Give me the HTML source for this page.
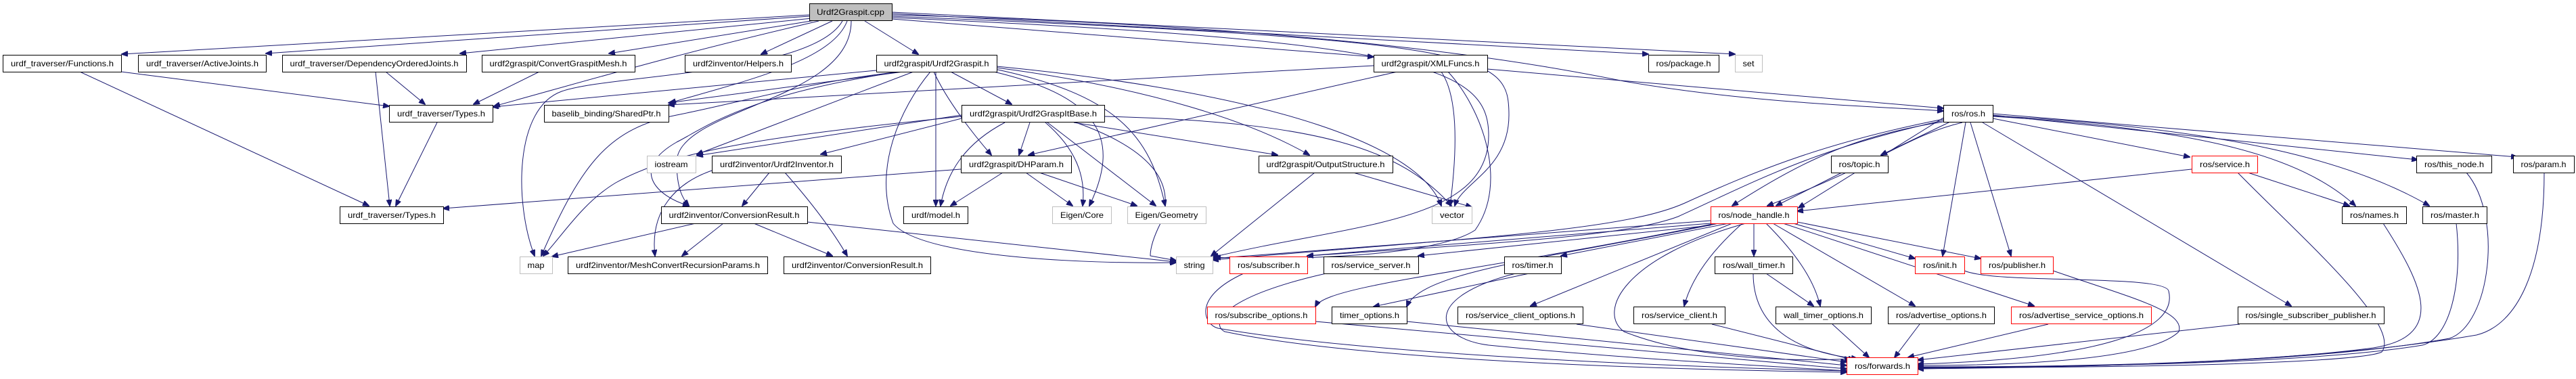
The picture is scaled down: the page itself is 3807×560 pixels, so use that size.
<!DOCTYPE html>
<html><head><meta charset="utf-8"><style>
html,body{margin:0;padding:0;background:#fff;}
svg{display:block;}
text{font-family:"Liberation Sans",sans-serif;font-size:12px;fill:#000;}
.e{fill:none;stroke:#191970;stroke-width:1;marker-end:url(#a);}
.n{fill:#fff;stroke:#000;stroke-width:1;}
.g{fill:#fff;stroke:#bfbfbf;stroke-width:1;}
.r{fill:#fff;stroke:#ff0000;stroke-width:1;}
.root{fill:#bfbfbf;stroke:#000;stroke-width:1;}
</style></head><body>
<svg width="3807" height="560" viewBox="0 0 3807 560" xmlns="http://www.w3.org/2000/svg">
<defs><marker id="a" markerWidth="10" markerHeight="8" refX="9" refY="4" orient="auto" markerUnits="userSpaceOnUse"><path d="M0,0 L10,4 L0,8 z" fill="#191970" stroke="#191970"/></marker></defs>
<g>
<path class="e" d="M1196,22 L180,80"/>
<path class="e" d="M1196,24 L393,79"/>
<path class="e" d="M1200,27 L680,79"/>
<path class="e" d="M1205,30 L900,79"/>
<path class="e" d="M1230,31 L1125,80"/>
<path class="e" d="M1278,31 L1357,80"/>
<path class="e" d="M1210,31 C1000,80 900,110 730,157"/>
<path class="e" d="M1252,31 C1230,90 1100,120 990,152"/>
<path class="e" d="M1245,31 C1200,110 900,110 830,135 C760,160 760,300 790,378"/>
<path class="e" d="M1258,31 C1258,150 1000,160 1000,240 C1000,280 1010,295 1018,304"/>
<path class="e" d="M1318,28 L2030,84"/>
<path class="e" d="M1318,20 L2436,80"/>
<path class="e" d="M1318,18 L2564,80"/>
<path class="e" d="M1318,22 C2000,40 2300,100 2400,120 C2600,155 2800,158 2872,164"/>
<path class="e" d="M1318,24 C2200,60 2230,80 2230,170 C2230,250 2160,270 2150,304"/>
<path class="e" d="M1318,26 C2100,60 2200,100 2200,200 C2200,330 2000,330 1792,380"/>
<path class="e" d="M179,106 L575,157"/>
<path class="e" d="M118,106 L545,304"/>
<path class="e" d="M570,106 L628,154"/>
<path class="e" d="M555,106 L576,304"/>
<path class="e" d="M797,106 L700,154"/>
<path class="e" d="M646,181 L585,304"/>
<path class="e" d="M1295,104 L728,158"/>
<path class="e" d="M1335,106 L988,152"/>
<path class="e" d="M1350,106 L1030,228"/>
<path class="e" d="M1405,106 L1495,154"/>
<path class="e" d="M1380,106 C1400,150 1440,200 1465,229"/>
<path class="e" d="M1383,106 L1383,304"/>
<path class="e" d="M1460,104 C1620,140 1660,200 1610,304"/>
<path class="e" d="M1470,102 C1650,140 1700,200 1722,304"/>
<path class="e" d="M1473,100 C1700,130 1850,180 1935,229"/>
<path class="e" d="M1473,98 C1900,140 2100,220 2130,304"/>
<path class="e" d="M1375,106 C1330,160 1290,250 1320,330 C1360,380 1600,390 1738,388"/>
<path class="e" d="M1330,106 C1200,120 1100,150 1000,170 C900,190 860,240 800,378"/>
<path class="e" d="M1330,106 C1100,140 1040,190 1000,210 C930,250 970,290 1018,304"/>
<path class="e" d="M1421,175 L1213,228"/>
<path class="e" d="M1421,170 L1030,230"/>
<path class="e" d="M1522,181 L1506,229"/>
<path class="e" d="M1545,181 C1590,220 1605,260 1600,304"/>
<path class="e" d="M1548,181 L1708,304"/>
<path class="e" d="M1587,181 L1888,229"/>
<path class="e" d="M1590,181 C1700,220 1740,270 1715,330 C1705,350 1700,365 1700,378 L1738,385"/>
<path class="e" d="M1632,172 C1950,180 2070,220 2145,304"/>
<path class="e" d="M1421,172 C1150,200 1000,220 910,270 C860,300 830,350 803,378"/>
<path class="e" d="M1485,181 C1430,210 1400,250 1390,304"/>
<path class="e" d="M1482,255 L1405,304"/>
<path class="e" d="M1516,255 L1585,304"/>
<path class="e" d="M1536,255 L1680,304"/>
<path class="e" d="M1420,250 L655,308"/>
<path class="e" d="M2065,106 L1520,229"/>
<path class="e" d="M2198,102 L2872,160"/>
<path class="e" d="M2130,106 C2160,150 2150,250 2143,304"/>
<path class="e" d="M2140,106 C2190,160 2230,270 2180,340 C2120,380 1900,385 1795,380"/>
<path class="e" d="M2030,97 L988,155"/>
<path class="e" d="M1137,255 L1097,304"/>
<path class="e" d="M1160,255 C1200,300 1230,340 1252,378"/>
<path class="e" d="M1052,252 C1000,270 960,310 968,378"/>
<path class="e" d="M1028,330 L816,379"/>
<path class="e" d="M1069,330 L1008,378"/>
<path class="e" d="M1114,330 L1230,378"/>
<path class="e" d="M1193,328 L1738,387"/>
<path class="e" d="M1943,255 L1790,378"/>
<path class="e" d="M2000,255 L2175,306"/>
<path class="e" d="M2900,181 C2820,200 2780,240 2612,304"/>
<path class="e" d="M2880,181 L2780,229"/>
<path class="e" d="M2945,175 L3236,232"/>
<path class="e" d="M2945,170 L3573,236"/>
<path class="e" d="M2945,168 L3720,232"/>
<path class="e" d="M2945,172 C3250,190 3400,230 3481,304"/>
<path class="e" d="M2945,171 C3300,190 3480,240 3590,304"/>
<path class="e" d="M2905,181 L2871,378"/>
<path class="e" d="M2912,181 L2972,378"/>
<path class="e" d="M2930,181 L3386,452"/>
<path class="e" d="M2872,176 C2700,210 2600,250 2490,300 C2400,340 2200,350 1792,384"/>
<path class="e" d="M2872,178 C2680,220 2590,270 2480,320 C2400,350 2200,360 1932,378"/>
<path class="e" d="M2872,180 C2740,200 2660,240 2560,304"/>
<path class="e" d="M2872,174 L2658,307"/>
<path class="e" d="M2722,255 L2625,304"/>
<path class="e" d="M3239,250 L2656,312"/>
<path class="e" d="M3322,255 L3472,304"/>
<path class="e" d="M3307,255 C3400,350 3550,480 3520,520 C3480,540 3000,545 2834,542"/>
<path class="e" d="M2528,326 L1792,382"/>
<path class="e" d="M2528,330 L1932,378"/>
<path class="e" d="M2528,333 L2096,378"/>
<path class="e" d="M2555,330 L2307,378"/>
<path class="e" d="M2540,330 C2300,380 2100,400 2079,453"/>
<path class="e" d="M2535,330 C2200,400 1960,420 1944,453"/>
<path class="e" d="M2560,330 L2262,452"/>
<path class="e" d="M2575,330 C2530,370 2500,410 2489,452"/>
<path class="e" d="M2592,330 L2592,378"/>
<path class="e" d="M2610,330 C2650,370 2680,410 2690,452"/>
<path class="e" d="M2620,330 L2830,452"/>
<path class="e" d="M2635,330 L3006,452"/>
<path class="e" d="M2650,330 L2830,382"/>
<path class="e" d="M2656,328 L2927,382"/>
<path class="e" d="M2580,330 C2400,380 2360,460 2400,490 C2500,530 2650,535 2735,530"/>
<path class="e" d="M2260,404 L2030,453"/>
<path class="e" d="M2240,404 C2100,440 2120,500 2200,510 C2400,530 2600,540 2729,548"/>
<path class="e" d="M2610,404 L2680,452"/>
<path class="e" d="M2591,404 C2591,480 2650,520 2745,530"/>
<path class="e" d="M2708,479 L2762,528"/>
<path class="e" d="M2530,479 L2740,532"/>
<path class="e" d="M2330,479 L2729,535"/>
<path class="e" d="M2079,475 L2729,540"/>
<path class="e" d="M1944,475 L2729,545"/>
<path class="e" d="M1838,404 C1760,440 1780,480 1800,485 C2000,520 2400,540 2729,548"/>
<path class="e" d="M1960,404 C1800,440 1790,480 1810,490 C2000,530 2400,545 2729,550"/>
<path class="e" d="M2837,479 L2800,528"/>
<path class="e" d="M3027,479 L2820,528"/>
<path class="e" d="M3310,479 L2834,532"/>
<path class="e" d="M2903,400 C2950,420 3200,405 3205,430 C3220,490 3100,530 2834,538"/>
<path class="e" d="M3034,400 C3150,440 3230,460 3220,490 C3180,530 3000,540 2834,540"/>
<path class="e" d="M3522,330 C3580,420 3620,500 3500,515 C3300,540 3000,542 2834,542"/>
<path class="e" d="M3630,330 C3640,420 3620,500 3580,510 C3400,540 3000,542 2834,543"/>
<path class="e" d="M3645,255 C3700,320 3680,480 3620,500 C3400,540 3000,543 2834,544"/>
<path class="e" d="M3760,255 C3760,400 3720,480 3660,495 C3400,540 3000,543 2834,545"/>
</g>
<g>
<rect class="root" x="1196.5" y="5.5" width="122" height="25"/><text x="1257" y="22" text-anchor="middle" textLength="100" lengthAdjust="spacingAndGlyphs">Urdf2Graspit.cpp</text>
<rect class="n" x="4.5" y="81.5" width="175" height="25"/><text x="92" y="98" text-anchor="middle" textLength="152" lengthAdjust="spacingAndGlyphs">urdf_traverser/Functions.h</text>
<rect class="n" x="204.5" y="81.5" width="189" height="25"/><text x="299" y="98" text-anchor="middle" textLength="166" lengthAdjust="spacingAndGlyphs">urdf_traverser/ActiveJoints.h</text>
<rect class="n" x="417.5" y="81.5" width="272" height="25"/><text x="553" y="98" text-anchor="middle" textLength="249" lengthAdjust="spacingAndGlyphs">urdf_traverser/DependencyOrderedJoints.h</text>
<rect class="n" x="712.5" y="81.5" width="226" height="25"/><text x="825" y="98" text-anchor="middle" textLength="203" lengthAdjust="spacingAndGlyphs">urdf2graspit/ConvertGraspitMesh.h</text>
<rect class="n" x="1012.5" y="81.5" width="157" height="25"/><text x="1091" y="98" text-anchor="middle" textLength="134" lengthAdjust="spacingAndGlyphs">urdf2inventor/Helpers.h</text>
<rect class="n" x="1295.5" y="81.5" width="178" height="25"/><text x="1384" y="98" text-anchor="middle" textLength="155" lengthAdjust="spacingAndGlyphs">urdf2graspit/Urdf2Graspit.h</text>
<rect class="n" x="2030.5" y="81.5" width="168" height="25"/><text x="2114" y="98" text-anchor="middle" textLength="145" lengthAdjust="spacingAndGlyphs">urdf2graspit/XMLFuncs.h</text>
<rect class="n" x="2436.5" y="81.5" width="104" height="25"/><text x="2488" y="98" text-anchor="middle" textLength="81" lengthAdjust="spacingAndGlyphs">ros/package.h</text>
<rect class="g" x="2564.5" y="81.5" width="40" height="25"/><text x="2584" y="98" text-anchor="middle" textLength="17" lengthAdjust="spacingAndGlyphs">set</text>
<rect class="n" x="575.5" y="155.5" width="153" height="25"/><text x="652" y="172" text-anchor="middle" textLength="130" lengthAdjust="spacingAndGlyphs">urdf_traverser/Types.h</text>
<rect class="n" x="804.5" y="155.5" width="184" height="25"/><text x="896" y="172" text-anchor="middle" textLength="161" lengthAdjust="spacingAndGlyphs">baselib_binding/SharedPtr.h</text>
<rect class="n" x="1421.5" y="155.5" width="211" height="25"/><text x="1527" y="172" text-anchor="middle" textLength="188" lengthAdjust="spacingAndGlyphs">urdf2graspit/Urdf2GraspItBase.h</text>
<rect class="n" x="2872.5" y="155.5" width="73" height="25"/><text x="2909" y="172" text-anchor="middle" textLength="50" lengthAdjust="spacingAndGlyphs">ros/ros.h</text>
<rect class="g" x="956.5" y="230.5" width="72" height="25"/><text x="992" y="247" text-anchor="middle" textLength="49" lengthAdjust="spacingAndGlyphs">iostream</text>
<rect class="n" x="1052.5" y="230.5" width="191" height="25"/><text x="1148" y="247" text-anchor="middle" textLength="168" lengthAdjust="spacingAndGlyphs">urdf2inventor/Urdf2Inventor.h</text>
<rect class="n" x="1420.5" y="230.5" width="163" height="25"/><text x="1502" y="247" text-anchor="middle" textLength="140" lengthAdjust="spacingAndGlyphs">urdf2graspit/DHParam.h</text>
<rect class="n" x="1860.5" y="230.5" width="198" height="25"/><text x="1959" y="247" text-anchor="middle" textLength="175" lengthAdjust="spacingAndGlyphs">urdf2graspit/OutputStructure.h</text>
<rect class="n" x="2706.5" y="230.5" width="84" height="25"/><text x="2748" y="247" text-anchor="middle" textLength="61" lengthAdjust="spacingAndGlyphs">ros/topic.h</text>
<rect class="r" x="3239.5" y="230.5" width="97" height="25"/><text x="3288" y="247" text-anchor="middle" textLength="74" lengthAdjust="spacingAndGlyphs">ros/service.h</text>
<rect class="n" x="3571.5" y="230.5" width="111" height="25"/><text x="3627" y="247" text-anchor="middle" textLength="88" lengthAdjust="spacingAndGlyphs">ros/this_node.h</text>
<rect class="n" x="3714.5" y="230.5" width="90" height="25"/><text x="3759" y="247" text-anchor="middle" textLength="67" lengthAdjust="spacingAndGlyphs">ros/param.h</text>
<rect class="n" x="502.5" y="305.5" width="153" height="25"/><text x="579" y="322" text-anchor="middle" textLength="130" lengthAdjust="spacingAndGlyphs">urdf_traverser/Types.h</text>
<rect class="n" x="977.5" y="305.5" width="216" height="25"/><text x="1085" y="322" text-anchor="middle" textLength="193" lengthAdjust="spacingAndGlyphs">urdf2inventor/ConversionResult.h</text>
<rect class="n" x="1335.5" y="305.5" width="95" height="25"/><text x="1383" y="322" text-anchor="middle" textLength="72" lengthAdjust="spacingAndGlyphs">urdf/model.h</text>
<rect class="g" x="1555.5" y="305.5" width="87" height="25"/><text x="1599" y="322" text-anchor="middle" textLength="64" lengthAdjust="spacingAndGlyphs">Eigen/Core</text>
<rect class="g" x="1666.5" y="305.5" width="116" height="25"/><text x="1724" y="322" text-anchor="middle" textLength="93" lengthAdjust="spacingAndGlyphs">Eigen/Geometry</text>
<rect class="g" x="2116.5" y="305.5" width="59" height="25"/><text x="2146" y="322" text-anchor="middle" textLength="36" lengthAdjust="spacingAndGlyphs">vector</text>
<rect class="r" x="2528.5" y="305.5" width="128" height="25"/><text x="2592" y="322" text-anchor="middle" textLength="105" lengthAdjust="spacingAndGlyphs">ros/node_handle.h</text>
<rect class="n" x="3461.5" y="305.5" width="95" height="25"/><text x="3509" y="322" text-anchor="middle" textLength="72" lengthAdjust="spacingAndGlyphs">ros/names.h</text>
<rect class="n" x="3580.5" y="305.5" width="95" height="25"/><text x="3628" y="322" text-anchor="middle" textLength="72" lengthAdjust="spacingAndGlyphs">ros/master.h</text>
<rect class="g" x="768.5" y="379.5" width="48" height="25"/><text x="792" y="396" text-anchor="middle" textLength="25" lengthAdjust="spacingAndGlyphs">map</text>
<rect class="n" x="839.5" y="379.5" width="295" height="25"/><text x="987" y="396" text-anchor="middle" textLength="272" lengthAdjust="spacingAndGlyphs">urdf2inventor/MeshConvertRecursionParams.h</text>
<rect class="n" x="1158.5" y="379.5" width="217" height="25"/><text x="1267" y="396" text-anchor="middle" textLength="194" lengthAdjust="spacingAndGlyphs">urdf2inventor/ConversionResult.h</text>
<rect class="g" x="1738.5" y="379.5" width="54" height="25"/><text x="1765" y="396" text-anchor="middle" textLength="31" lengthAdjust="spacingAndGlyphs">string</text>
<rect class="r" x="1817.5" y="379.5" width="115" height="25"/><text x="1875" y="396" text-anchor="middle" textLength="92" lengthAdjust="spacingAndGlyphs">ros/subscriber.h</text>
<rect class="n" x="1956.5" y="379.5" width="140" height="25"/><text x="2026" y="396" text-anchor="middle" textLength="117" lengthAdjust="spacingAndGlyphs">ros/service_server.h</text>
<rect class="n" x="2223.5" y="379.5" width="84" height="25"/><text x="2265" y="396" text-anchor="middle" textLength="61" lengthAdjust="spacingAndGlyphs">ros/timer.h</text>
<rect class="n" x="2534.5" y="379.5" width="115" height="25"/><text x="2592" y="396" text-anchor="middle" textLength="92" lengthAdjust="spacingAndGlyphs">ros/wall_timer.h</text>
<rect class="r" x="2830.5" y="379.5" width="73" height="25"/><text x="2867" y="396" text-anchor="middle" textLength="50" lengthAdjust="spacingAndGlyphs">ros/init.h</text>
<rect class="r" x="2927.5" y="379.5" width="107" height="25"/><text x="2981" y="396" text-anchor="middle" textLength="84" lengthAdjust="spacingAndGlyphs">ros/publisher.h</text>
<rect class="r" x="1784.5" y="453.5" width="160" height="25"/><text x="1864" y="470" text-anchor="middle" textLength="137" lengthAdjust="spacingAndGlyphs">ros/subscribe_options.h</text>
<rect class="n" x="1968.5" y="453.5" width="111" height="25"/><text x="2024" y="470" text-anchor="middle" textLength="88" lengthAdjust="spacingAndGlyphs">timer_options.h</text>
<rect class="n" x="2154.5" y="453.5" width="185" height="25"/><text x="2247" y="470" text-anchor="middle" textLength="162" lengthAdjust="spacingAndGlyphs">ros/service_client_options.h</text>
<rect class="n" x="2414.5" y="453.5" width="135" height="25"/><text x="2482" y="470" text-anchor="middle" textLength="112" lengthAdjust="spacingAndGlyphs">ros/service_client.h</text>
<rect class="n" x="2624.5" y="453.5" width="141" height="25"/><text x="2695" y="470" text-anchor="middle" textLength="118" lengthAdjust="spacingAndGlyphs">wall_timer_options.h</text>
<rect class="n" x="2790.5" y="453.5" width="157" height="25"/><text x="2869" y="470" text-anchor="middle" textLength="134" lengthAdjust="spacingAndGlyphs">ros/advertise_options.h</text>
<rect class="r" x="2972.5" y="453.5" width="207" height="25"/><text x="3076" y="470" text-anchor="middle" textLength="184" lengthAdjust="spacingAndGlyphs">ros/advertise_service_options.h</text>
<rect class="n" x="3307.5" y="453.5" width="216" height="25"/><text x="3415" y="470" text-anchor="middle" textLength="193" lengthAdjust="spacingAndGlyphs">ros/single_subscriber_publisher.h</text>
<rect class="r" x="2729.5" y="528.5" width="105" height="25"/><text x="2782" y="545" text-anchor="middle" textLength="82" lengthAdjust="spacingAndGlyphs">ros/forwards.h</text>
</g>
</svg>
</body></html>
